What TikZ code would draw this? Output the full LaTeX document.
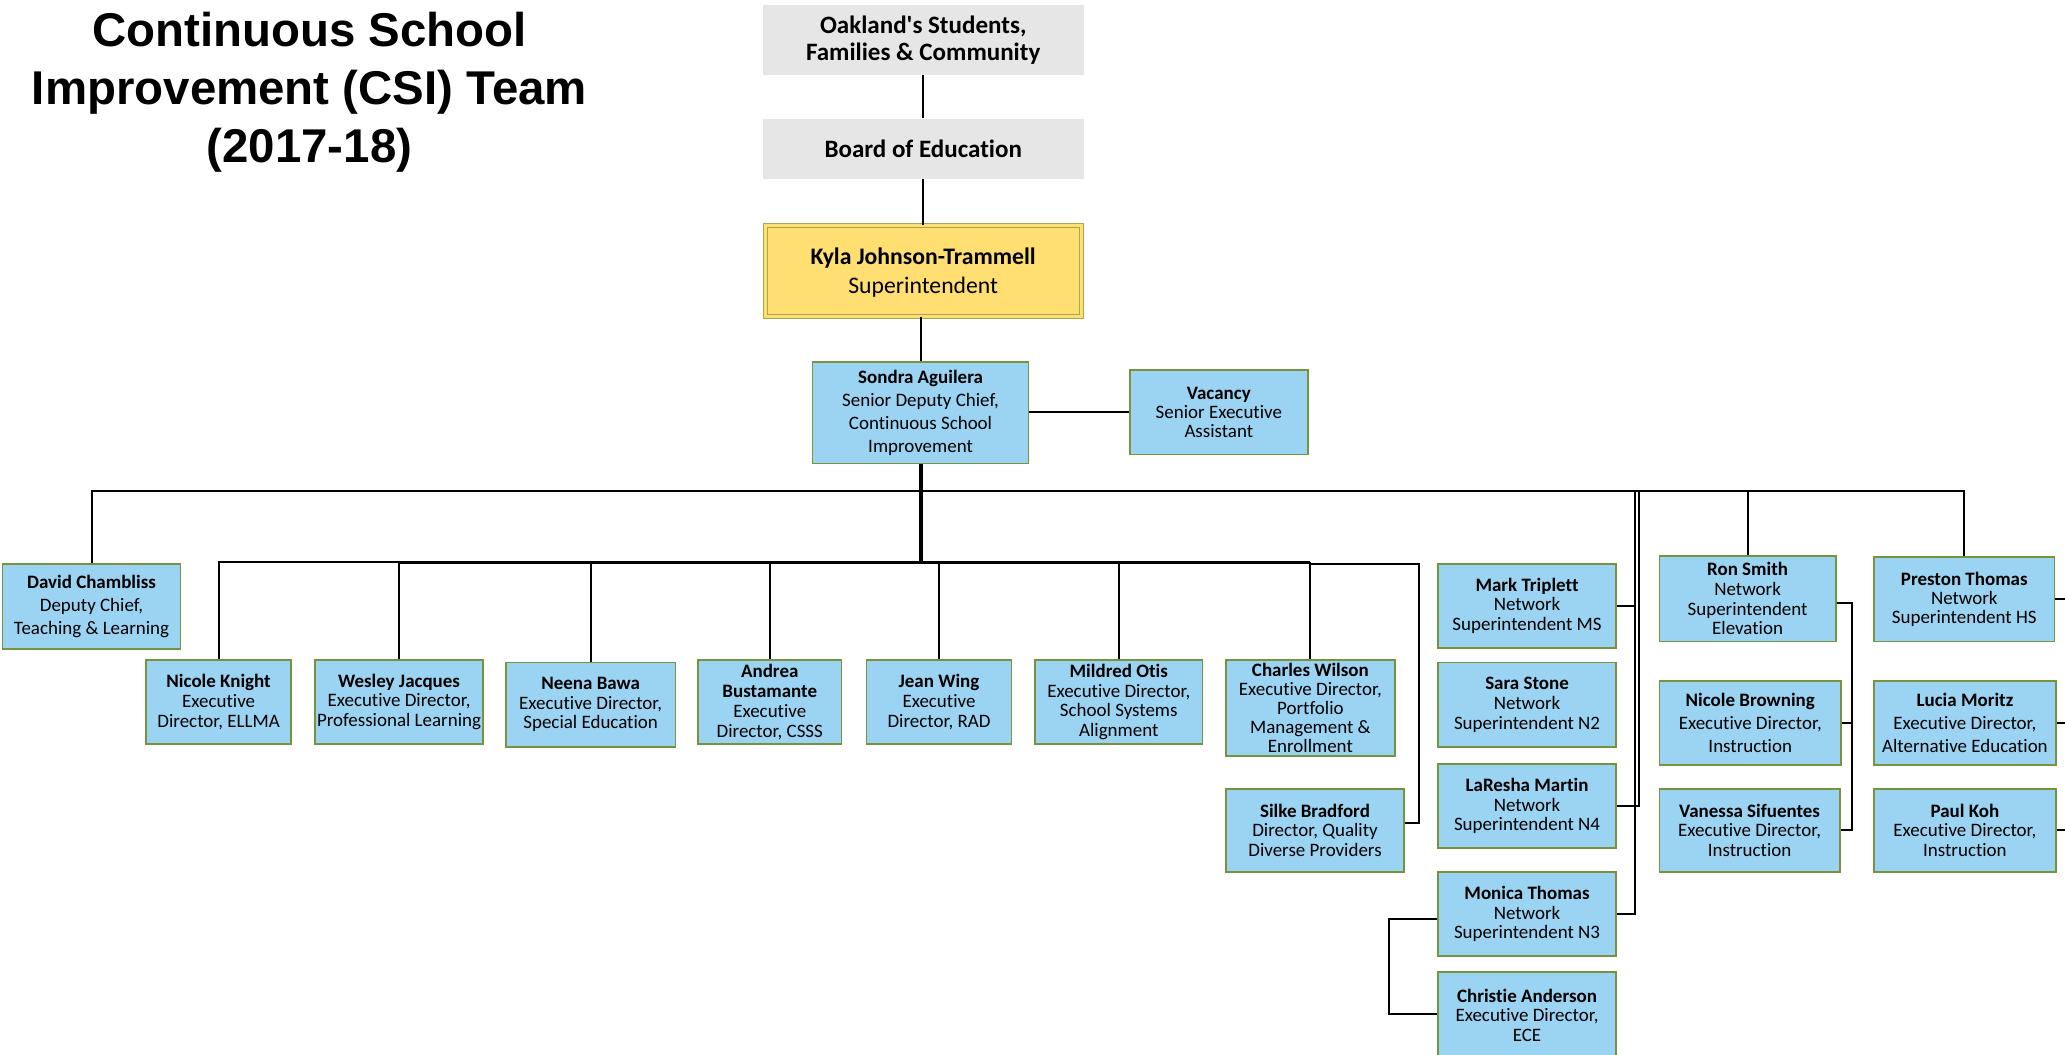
\documentclass[tikz,border=0pt]{standalone}
\usepackage{fontspec}
\setmainfont{Carlito}[Ligatures={NoCommon}]
\newfontfamily\titlefnt{Liberation Sans}
\definecolor{bblue}{HTML}{9BD3F2}
\definecolor{bgreen}{HTML}{77933C}
\definecolor{bgray}{HTML}{E6E6E6}
\definecolor{kyel}{HTML}{FFDF72}
\definecolor{kbord}{HTML}{A8A850}
\tikzset{
  bx/.style={draw=bgreen, line width=1.3pt, fill=bblue, align=center, inner sep=0pt,
    font=\fontsize{14.4}{15}\selectfont},
  lsp/.style={font=\fontsize{14.4}{17.6}\selectfont},
  tsp/.style={font=\fontsize{14.4}{14.5}\selectfont},
  graybox/.style={fill=bgray, align=center, inner sep=0pt, font=\bfseries\fontsize{19}{20}\selectfont},
  conn/.style={line width=1.5pt, black},
  trunk/.style={line width=3pt, black},
}
\begin{document}
\begin{tikzpicture}[x=1pt,y=-1pt]
\fill[white] (0,0) rectangle (1568,801);
\useasboundingbox (0,0) rectangle (1568,801);

% title
\node[font=\titlefnt\bfseries\fontsize{36}{44}\selectfont, align=center] (title) at (235,70)
  {Continuous School\\Improvement (CSI) Team\\(2017-18)};

% top chain
\node[graybox, minimum width=244, minimum height=53] (oak) at (701,30.5) {Oakland\textquotesingle s Students,\\Families \& Community};
\node[graybox, minimum width=244, minimum height=46] (board) at (701,113) {Board of Education};
\node[draw=kbord, double=kyel, double distance=2.2pt, line width=0.8pt, fill=kyel, align=center, inner sep=0pt,
  minimum width=240, minimum height=69, font=\fontsize{18}{22}\selectfont] (kyla) at (701,205.5)
  {\rule{0pt}{16pt}\textbf{Kyla Johnson-Trammell}\\Superintendent};
\node[bx, lsp, minimum width=164, minimum height=77] (sondra) at (699,313.5)
  {\textbf{Sondra Aguilera}\\Senior Deputy Chief,\\Continuous School\\Improvement};
\node[bx, tsp, minimum width=135, minimum height=64] (vac) at (925.5,313)
  {\textbf{Vacancy}\\Senior Executive\\Assistant};

% second level
\node[bx, lsp, minimum width=135, minimum height=65] (david) at (69.5,460.5)
  {\textbf{David Chambliss}\\Deputy Chief,\\Teaching \& Learning};
\node[bx, minimum width=110, minimum height=64] (knight) at (166,533)
  {\textbf{Nicole Knight}\\Executive\\Director, ELLMA};
\node[bx, minimum width=128, minimum height=64] (wesley) at (303,533)
  {\textbf{Wesley Jacques}\\Executive Director,\\Professional Learning};
\node[bx, minimum width=129, minimum height=64] (neena) at (448.5,535)
  {\textbf{Neena Bawa}\\Executive Director,\\Special Education};
\node[bx, minimum width=109, minimum height=64] (andrea) at (584.5,533)
  {\textbf{Andrea}\\\textbf{Bustamante}\\Executive\\Director, CSSS};
\node[bx, minimum width=110, minimum height=64] (jean) at (713,533)
  {\textbf{Jean Wing}\\Executive\\Director, RAD};
\node[bx, minimum width=127, minimum height=64] (mildred) at (849.5,533)
  {\textbf{Mildred Otis}\\Executive Director,\\School Systems\\Alignment};
\node[bx, tsp, minimum width=128, minimum height=73] (charles) at (995,537.5)
  {\textbf{Charles Wilson}\\Executive Director,\\Portfolio\\Management \&\\Enrollment};
\node[bx, minimum width=135, minimum height=63] (silke) at (998.5,630.5)
  {\textbf{Silke Bradford}\\Director, Quality\\Diverse Providers};

% network superintendents
\node[bx, minimum width=135, minimum height=64] (mark) at (1159.5,460)
  {\textbf{Mark Triplett}\\Network\\Superintendent MS};
\node[bx, minimum width=135, minimum height=64] (sara) at (1159.5,535)
  {\textbf{Sara Stone}\\Network\\Superintendent N2};
\node[bx, minimum width=135, minimum height=64] (laresha) at (1159.5,612)
  {\textbf{LaResha Martin}\\Network\\Superintendent N4};
\node[bx, minimum width=135, minimum height=64] (monica) at (1159.5,694)
  {\textbf{Monica Thomas}\\Network\\Superintendent N3};
\node[bx, minimum width=135, minimum height=66] (christie) at (1159.5,771)
  {\textbf{Christie Anderson}\\Executive Director,\\ECE};

\node[bx, minimum width=134, minimum height=65] (ron) at (1327,454.5)
  {\textbf{Ron Smith}\\Network\\Superintendent\\Elevation};
\node[bx, lsp, minimum width=138, minimum height=64] (browning) at (1329,549)
  {\textbf{Nicole Browning}\\Executive Director,\\Instruction};
\node[bx, minimum width=137, minimum height=63] (vanessa) at (1328.5,630.5)
  {\textbf{Vanessa Sifuentes}\\Executive Director,\\Instruction};

\node[bx, tsp, minimum width=137, minimum height=64] (preston) at (1491.5,455)
  {\textbf{Preston Thomas}\\Network\\Superintendent HS};
\node[bx, lsp, minimum width=138, minimum height=64] (lucia) at (1492,549)
  {\textbf{Lucia Moritz}\\Executive Director,\\Alternative Education};
\node[bx, minimum width=138, minimum height=63] (paulkoh) at (1492,630.5)
  {\textbf{Paul Koh}\\Executive Director,\\Instruction};

% helper coordinates
\coordinate (b1) at (0,373);
\coordinate (b2) at (0,427);
\coordinate (sj) at (1077.5,624.6);
\coordinate (vl) at (1241.5,373);
\coordinate (vr) at (1244.7,373);
\coordinate (mc) at (1055,698);
\coordinate (cc) at (1055,770);
\coordinate (rj) at (1406,458);
\coordinate (edge) at (1580,0);

% connectors
\draw[conn] (oak) -- (board);
\draw[conn] (board) -- (kyla);
\draw[conn] (sondra.north |- kyla.south) -- (sondra.north);
\draw[conn] (sondra.east |- vac.west) -- (vac.west);
\draw[conn] (david.north) -- (david.north |- b1) -- (preston.north |- b1) -- (preston.north);
\draw[conn] (ron.north) -- (ron.north |- b1);
\draw[trunk] (sondra.south) -- (sondra.south |- b2);
\draw[conn] (knight.north) -- (knight.north |- b2) -- (wesley.north |- b2);
\draw[conn, line width=2.4pt] (wesley.north |- b2) -- (charles.north |- b2);
\foreach \n in {wesley,neena,andrea,jean,mildred,charles}
  \draw[conn] (\n.north) -- (\n.north |- b2);
\draw[conn] (charles.north |- sj) ++(0,-196.6) coordinate (cx) (cx) -- (cx -| sj) -- (sj) -- (sj -| silke.east);
\draw[conn, line width=1.2pt] (vl) -- (vl |- monica.east) -- (monica.east);
\draw[conn, line width=1.2pt] (mark.east) -- (mark.east -| vl);
\draw[conn, line width=1.2pt] (vr) -- (vr |- laresha.east) -- (laresha.east);
\draw[conn] (monica.west |- mc) -- (mc) -- (cc) -- (christie.west |- cc);
\draw[conn] (ron.east |- rj) -- (rj) -- (rj |- vanessa.east) -- (vanessa.east);
\draw[conn] (browning.east) -- (browning.east -| rj);
\draw[conn] (preston.east) -- (preston.east -| edge);
\draw[conn] (lucia.east) -- (lucia.east -| edge);
\draw[conn] (paulkoh.east) -- (paulkoh.east -| edge);
\end{tikzpicture}
\end{document}
